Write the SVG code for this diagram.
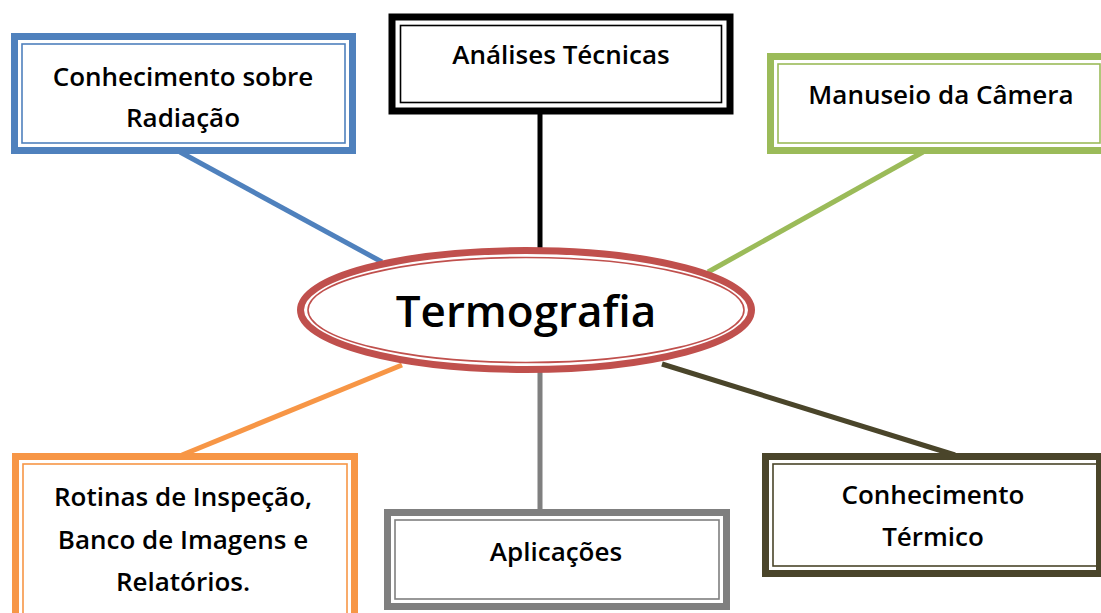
<svg xmlns="http://www.w3.org/2000/svg" width="1101" height="613" viewBox="0 0 1101 613">
<style>
.t{font-family:"Open Sans","Liberation Sans",sans-serif;font-weight:600;font-size:26px;fill:#000;text-anchor:middle}
.big{font-size:44px}
.outer{fill:#fff;stroke-width:7}
.inner{fill:none;stroke-width:1.6}
.c{stroke-width:5;fill:none}
</style>
<rect width="1101" height="613" fill="#fff"/>
<g id="connectors">
<line class="c" x1="180" y1="152" x2="382" y2="262" stroke="#4F81BD"/>
<line class="c" x1="540" y1="112" x2="540" y2="250" stroke="#000"/>
<line class="c" x1="923" y1="152" x2="708" y2="272" stroke="#9BBB59"/>
<line class="c" x1="402" y1="365" x2="182" y2="455" stroke="#F79646"/>
<line class="c" x1="540" y1="370" x2="540" y2="512" stroke="#7F7F7F"/>
<line class="c" x1="662" y1="364" x2="955" y2="455" stroke="#4A452A"/>
</g>
<g id="n-radiacao">
<rect class="outer" x="14.5" y="36.5" width="338" height="114" stroke="#4F81BD"/>
<rect class="inner" x="22" y="44" width="323" height="99" stroke="#4F81BD"/>
<text class="t" x="183" y="86">Conhecimento sobre</text>
<text class="t" x="183" y="127">Radiação</text>
</g>
<g id="n-analises">
<rect class="outer" x="392" y="17" width="338" height="94" stroke="#000" stroke-width="8"/>
<rect class="inner" x="400.5" y="25.5" width="321" height="77" stroke="#000"/>
<text class="t" x="561" y="64">Análises Técnicas</text>
</g>
<g id="n-camera">
<rect class="outer" x="770.5" y="56.5" width="345" height="94" stroke="#9BBB59"/>
<rect class="inner" x="778" y="64" width="322" height="79" stroke="#9BBB59"/>
<text class="t" x="941" y="104">Manuseio da Câmera</text>
</g>
<g id="n-termografia">
<ellipse cx="526" cy="310" rx="225.5" ry="59.5" fill="#fff" stroke="#C0504D" stroke-width="7"/>
<ellipse cx="526" cy="310" rx="218" ry="52.5" fill="none" stroke="#C0504D" stroke-width="1.6"/>
<text class="t big" x="526" y="327">Termografia</text>
</g>
<g id="n-rotinas">
<rect class="outer" x="15.5" y="456.5" width="339" height="170" stroke="#F79646"/>
<rect class="inner" x="23" y="464" width="324" height="155" stroke="#F79646"/>
<text class="t" x="183" y="506">Rotinas de Inspeção,</text>
<text class="t" x="183" y="549">Banco de Imagens e</text>
<text class="t" x="183" y="591">Relatórios.</text>
</g>
<g id="n-aplicacoes">
<rect class="outer" x="387.5" y="512.5" width="339" height="94" stroke="#7F7F7F"/>
<rect class="inner" x="395" y="520" width="324" height="79" stroke="#7F7F7F"/>
<text class="t" x="556" y="561">Aplicações</text>
</g>
<g id="n-termico">
<rect class="outer" x="765.5" y="456.5" width="334" height="117" stroke="#4A452A"/>
<rect class="inner" x="773" y="464" width="324" height="102" stroke="#4A452A"/>
<text class="t" x="933" y="504">Conhecimento</text>
<text class="t" x="933" y="546">Térmico</text>
</g>
</svg>
